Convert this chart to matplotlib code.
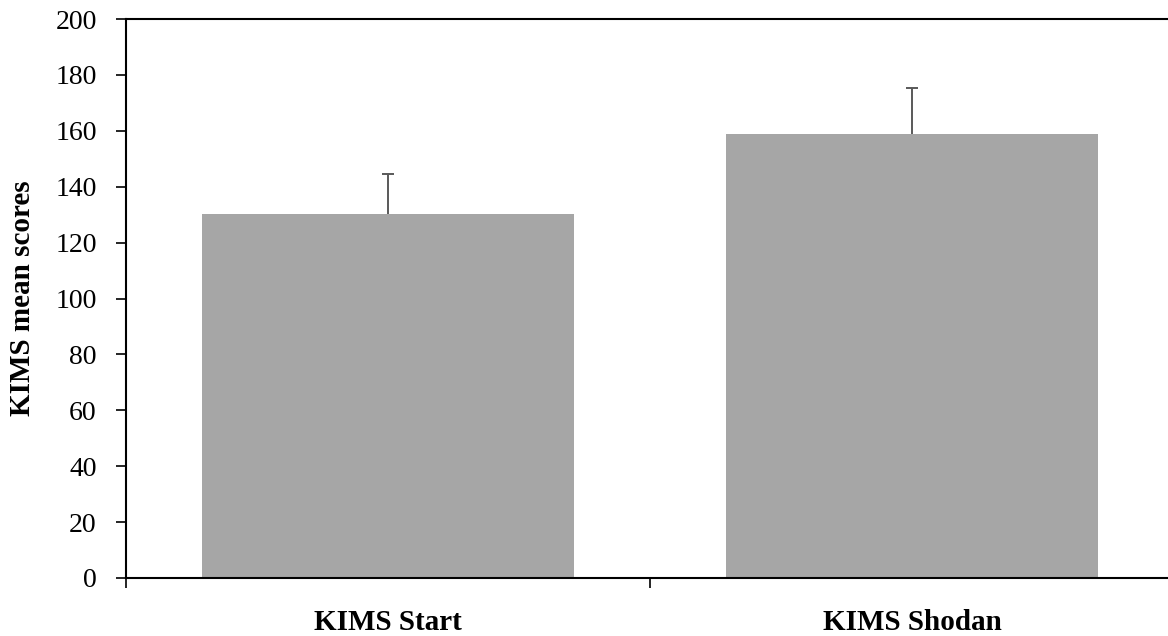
import matplotlib.pyplot as plt
from matplotlib.ticker import FixedLocator, FixedFormatter

categories = ["KIMS Start", "KIMS Shodan"]
means = [130.4, 158.8]
err_up = [14.1, 16.6]
y_ticks = [0, 20, 40, 60, 80, 100, 120, 140, 160, 180, 200]

def main():
    plt.rcParams["font.family"] = ["Liberation Serif", "DejaVu Serif"]
    fig = plt.figure(figsize=(11.68, 6.36), dpi=100)
    ax = fig.add_axes([0.1079, 0.0912, 0.8975, 0.8788])

    pos = list(range(len(categories)))
    ax.bar(pos, means, width=0.71, color="#a6a6a6", zorder=2)
    eb = ax.errorbar(pos, means, yerr=[[0] * len(means), err_up], fmt="none",
                     ecolor="#595959", elinewidth=1.4, capsize=4.5, capthick=1.4, zorder=1)
    # only the upper cap is shown
    eb[1][0].set_visible(False)

    ax.set_xlim(-0.5, len(categories) - 0.5)
    ax.set_ylim(0, 200)
    ax.set_yticks(y_ticks)
    ax.tick_params(axis="y", labelsize=20, length=7, width=1.2, pad=14, direction="out")

    # ticks between categories, labels in the middle
    ax.xaxis.set_major_locator(FixedLocator([p - 0.5 for p in pos] + [pos[-1] + 0.5]))
    ax.xaxis.set_major_formatter(FixedFormatter([""] * (len(pos) + 1)))
    ax.xaxis.set_minor_locator(FixedLocator(pos))
    ax.xaxis.set_minor_formatter(FixedFormatter(categories))
    ax.tick_params(axis="x", which="major", length=7, width=1.2, direction="out")
    ax.tick_params(axis="x", which="minor", length=0, pad=22, labelsize=21)
    for lab in ax.get_xticklabels(minor=True):
        lab.set_fontweight("bold")

    ax.set_ylabel("KIMS mean scores", fontsize=21, fontweight="bold", labelpad=14)

    for side in ["left", "bottom", "top"]:
        ax.spines[side].set_linewidth(1.5)
    ax.spines["right"].set_visible(False)

    fig.savefig("out.png", dpi=100)
    plt.close(fig)

if __name__ == "__main__":
    main()
